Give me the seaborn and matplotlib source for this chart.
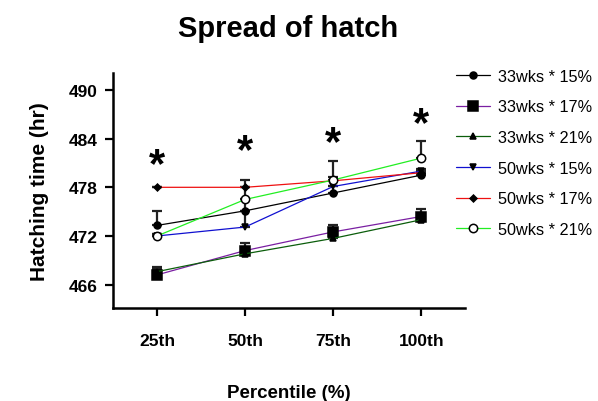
import numpy as np
import pandas as pd
import matplotlib
matplotlib.use("Agg")
import matplotlib.pyplot as plt
import seaborn as sns

percentiles = ["25th", "50th", "75th", "100th"]
groups = ["33wks * 15%", "33wks * 17%", "33wks * 21%",
          "50wks * 15%", "50wks * 17%", "50wks * 21%"]

# mean hatching time (hr) per group
g33_15 = [473.3, 475.1, 477.3, 479.5]
g33_17 = [467.2, 470.2, 472.5, 474.4]
g33_21 = [467.6, 469.8, 471.7, 474.0]
g50_15 = [472.0, 473.1, 478.1, 480.0]
g50_17 = [478.0, 478.0, 478.8, 479.8]
g50_21 = [472.0, 476.5, 478.9, 481.6]

# upper error bars
e33_15 = [1.8, 1.4, 0.8, 0.3]
e33_17 = [1.0, 0.9, 0.8, 0.9]
e33_21 = [0.3, 0.2, 0.3, 0.3]
e50_15 = [0.3, 2.0, 0.7, 0.3]
e50_17 = [0.0, 0.9, 0.5, 0.3]
e50_21 = [0.3, 1.5, 2.4, 2.1]

# significance stars height
star_y = [480.8, 482.5, 483.5, 485.8]

means = [g33_15, g33_17, g33_21, g50_15, g50_17, g50_21]
errs = [e33_15, e33_17, e33_21, e50_15, e50_17, e50_21]

rows = []
for g, m, e in zip(groups, means, errs):
    for i, p in enumerate(percentiles):
        rows.append({"group": g, "pos": i, "percentile": p, "time": m[i], "err": e[i]})
df = pd.DataFrame(rows)

colors = ["#000000", "#7a1fa2", "#0b5d0b", "#1010d0", "#ee1111", "#22ee22"]
markers = ["o", "s", "^", "v", "D", "o"]
msizes = [5, 7, 5, 5, 3.5, 6]
faces = ["black", "black", "black", "black", "black", "white"]

sns.set_style("white")
plt.rcParams["font.family"] = ["Liberation Sans", "DejaVu Sans"]
for key in ["text.color", "axes.labelcolor", "xtick.color", "ytick.color"]:
    plt.rcParams[key] = "black"

fig = plt.figure(figsize=(5.98, 4.02), dpi=100)
ax = fig.add_axes([0.189, 0.231, 0.589, 0.585])

for k, g in enumerate(groups):
    d = df[df["group"] == g]
    ax.errorbar(d["pos"], d["time"], yerr=[np.zeros(len(d)), d["err"]],
                fmt="none", ecolor="#222222", elinewidth=1.6, capsize=3.5,
                capthick=1.6, zorder=2)
    sns.lineplot(data=d, x="pos", y="time", ax=ax, color=colors[k], lw=0.9,
                 marker=markers[k], markersize=msizes[k], markerfacecolor=faces[k],
                 markeredgecolor="black", markeredgewidth=1.1, label=g, zorder=3)

for i, y in enumerate(star_y):
    ax.text(i, y, "*", ha="center", va="center", fontsize=30, fontweight="bold")

ax.set_xlim(-0.5, 3.5)
ax.set_ylim(463.1, 492.1)
ax.set_xticks(range(len(percentiles)))
ax.set_xticklabels(percentiles)
ax.set_yticks([466, 472, 478, 484, 490])
for lab in ax.get_xticklabels() + ax.get_yticklabels():
    lab.set_fontweight("bold")
    lab.set_fontsize(12.5)
ax.tick_params(axis="both", direction="out", length=6, width=1.6, bottom=True, left=True, pad=5)
ax.tick_params(axis="x", pad=12)
sns.despine(ax=ax)
for s in ["left", "bottom"]:
    ax.spines[s].set_linewidth(1.8)
    ax.spines[s].set_color("black")

ax.set_xlabel("Percentile (%)", fontsize=13.5, fontweight="bold", labelpad=26)
ax.set_ylabel("Hatching time (hr)", fontsize=15, fontweight="bold", labelpad=14)
fig.text(0.482, 0.928, "Spread of hatch", ha="center", va="center",
         fontsize=21, fontweight="bold")

ax.legend(loc="upper left", bbox_to_anchor=(0.955, 1.045), frameon=False,
          fontsize=11.7, handlelength=2.1, handletextpad=0.5, labelspacing=0.96,
          borderaxespad=0)

fig.savefig("out.png", dpi=100)
